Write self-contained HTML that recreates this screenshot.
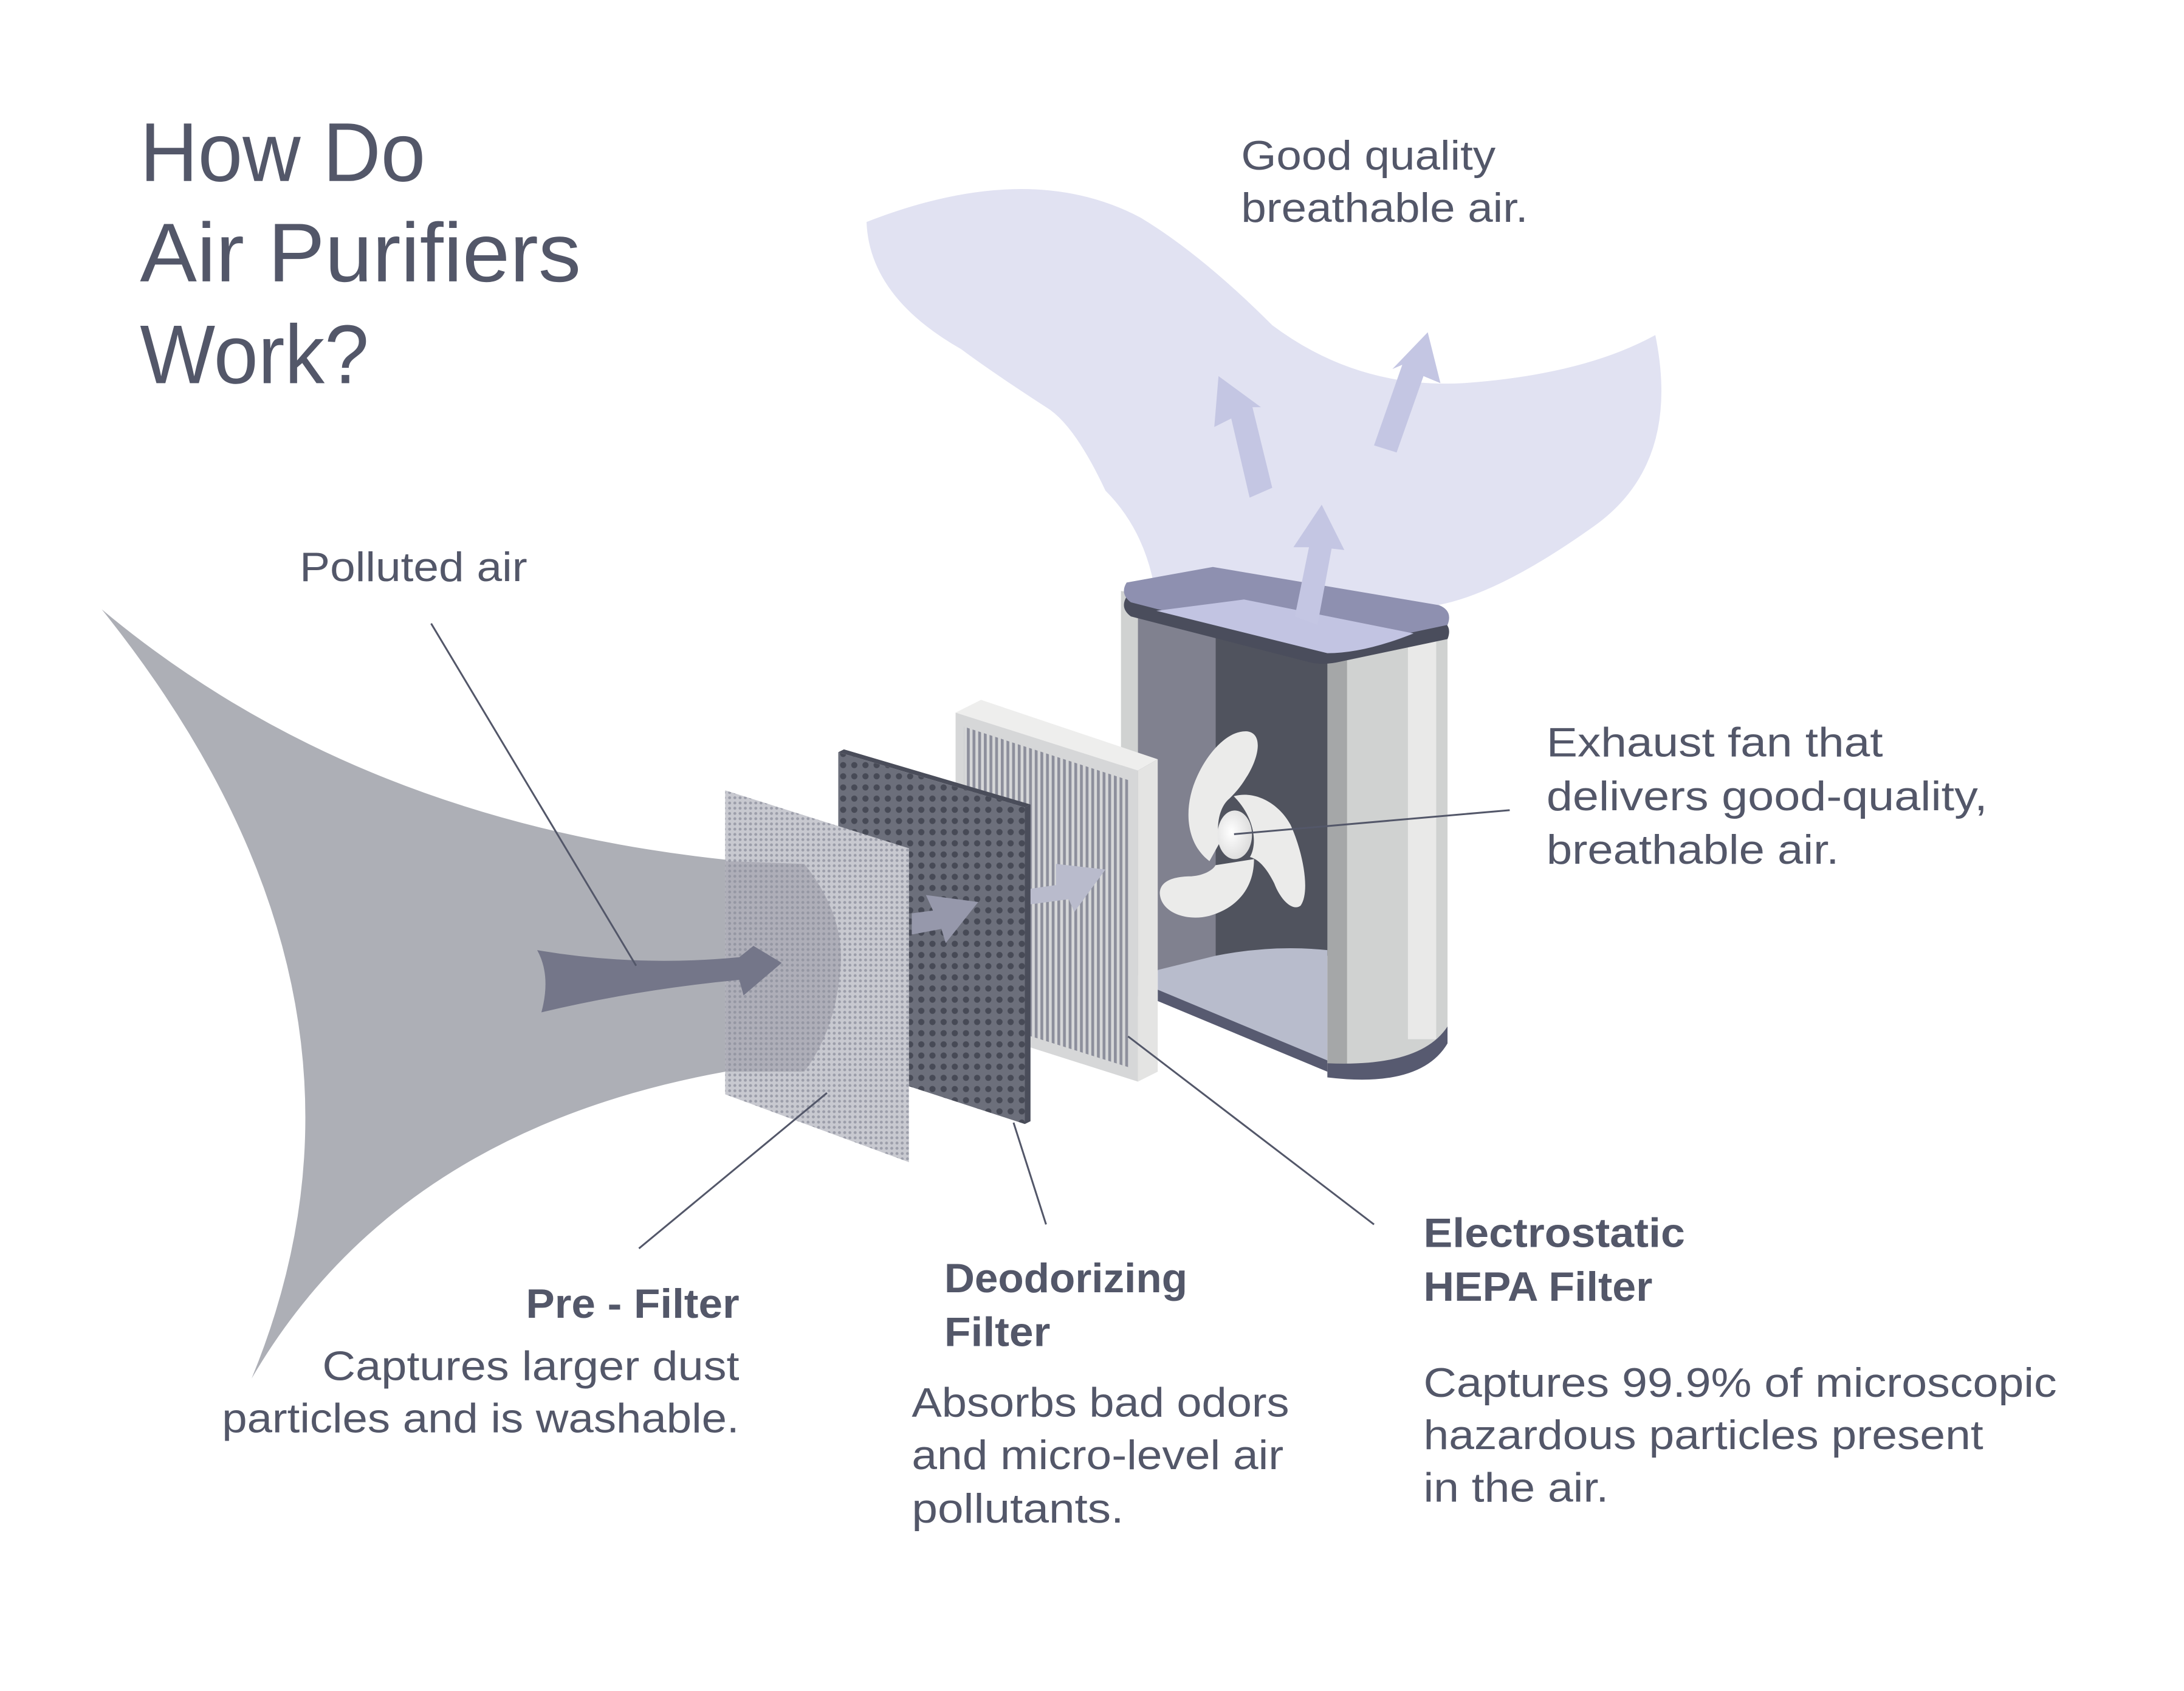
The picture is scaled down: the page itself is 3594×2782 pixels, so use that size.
<!DOCTYPE html>
<html><head><meta charset="utf-8"><style>
html,body{margin:0;padding:0;background:#fff;}
svg{display:block;}
text{font-family:"Liberation Sans",sans-serif;fill:#535769;}
</style></head><body>
<svg width="3594" height="2782" viewBox="0 0 1545 1196" preserveAspectRatio="none" xmlns="http://www.w3.org/2000/svg">
<defs>
<pattern id="pd" patternUnits="userSpaceOnUse" width="3.7" height="3.7"><rect width="3.7" height="3.7" fill="#c8c9d0"/><circle cx="1.85" cy="1.85" r="1.05" fill="#9c9eaa"/></pattern>
<pattern id="dd" patternUnits="userSpaceOnUse" width="7.9" height="7.9"><rect width="7.9" height="7.9" fill="#6c6f7b"/><circle cx="3.95" cy="3.95" r="2.2" fill="#474a56"/></pattern>
<pattern id="st" patternUnits="userSpaceOnUse" width="4" height="10"><rect width="4" height="10" fill="#d6d7d8"/><rect width="2" height="10" fill="#8d8f9c"/></pattern>
<radialGradient id="hub" cx="0.4" cy="0.45" r="0.6"><stop offset="0" stop-color="#ffffff"/><stop offset="1" stop-color="#dcdcdc"/></radialGradient>
</defs>

<text x="99" y="128" font-size="59" textLength="202" lengthAdjust="spacingAndGlyphs">How Do</text>
<text x="99" y="199" font-size="59" textLength="312" lengthAdjust="spacingAndGlyphs">Air Purifiers</text>
<text x="99" y="271" font-size="59" textLength="162" lengthAdjust="spacingAndGlyphs">Work?</text>

<path d="M613,157 Q728,112 807,154 Q850,180 900,230 Q960,275 1035,271 Q1120,265 1171,237 Q1190,330 1125,374 Q1060,420 1017,428 L819,434 Q815,380 782,347 Q760,300 740,288 Q700,262 680,247 Q615,210 613,157 Z" fill="#e1e2f2"/>
<polygon points="862,266 892,288 886,288 900,345 884,352 871,296 859,302" fill="#c4c6e3"/>
<polygon points="1010,235 1019,271 1007,266 988,320 972,315 992,258 985,261" fill="#c4c6e3"/>

<text x="878" y="120" font-size="29" textLength="180" lengthAdjust="spacingAndGlyphs">Good quality</text>
<text x="878" y="157" font-size="29" textLength="203" lengthAdjust="spacingAndGlyphs">breathable air.</text>

<path d="M72,431 Q250,580 513,608 L513,758 Q280,800 178,975 Q290,703 72,431 Z" fill="#adafb6"/>

<polygon points="793,418 806,420 806,705 793,700" fill="#d0d2d1"/>
<polygon points="805,422 861,430 861,676 805,690" fill="#80818f"/>
<polygon points="860,430 940,450 940,676 860,676" fill="#50535e"/>
<path d="M819,686 L860,676 Q900,668 939,672 L939,752 L819,702 Z" fill="#b8bccc"/>
<path d="M819,700 L939,750 L939,758 L819,708 Z" fill="#575a70"/>
<rect x="939" y="450" width="14" height="306" fill="#a5a7a8"/>
<path d="M953,448 L1024,436 L1024,728 Q1010,752 953,757 Z" fill="#d0d2d1"/>
<rect x="996" y="440" width="20" height="295" fill="#e9e9e8"/>
<path d="M939,752 Q1005,755 1024,726 L1024,738 Q1005,770 939,762 Z" fill="#575a70"/>

<path d="M797,422 L858,412 L1018,438 Q1028,442 1024,452 L948,468 Q935,471 925,468 L800,436 Q792,430 797,422 Z" fill="#4a4d5c"/>
<path d="M797,412 L858,401 L1018,428 Q1028,432 1024,442 L948,458 Q935,461 925,458 L800,426 Q792,420 797,412 Z" fill="#8e90b0"/>
<path d="M818,432 L880,424 L1000,448 Q965,462 939,462 Z" fill="#c2c4e2"/>
<polygon points="935,357 951,389 942,388 932,442 916,436 926,387 915,387" fill="#c4c6e3"/>

<g transform="translate(795.4,515.9) scale(0.1433)">
<path d="M420,650 C300,560 290,380 360,230 C420,100 520,0 610,10 C690,25 660,150 600,240 C570,290 540,320 520,340 C470,380 450,470 470,560 Z" fill="#ebebea"/>
<path d="M540,330 C640,300 760,360 820,470 C880,600 920,800 870,870 C830,900 770,840 740,760 C700,680 660,640 620,630 C660,560 640,430 540,330 Z" fill="#ebebea"/>
<path d="M640,640 C640,780 560,880 420,920 C300,950 180,900 175,810 C175,740 260,725 330,725 C400,720 440,690 450,670 Z" fill="#ebebea"/>
<ellipse cx="545" cy="520" rx="85" ry="120" fill="url(#hub)"/>
</g>

<polygon points="676,504 694,495 819,537 805,545" fill="#eeeeed"/>
<polygon points="805,545 819,537 819,758 805,765" fill="#e4e4e3"/>
<polygon points="676,504 805,545 805,765 676,724" fill="#d6d7d8"/>
<polygon points="682,514 799,552 799,755 682,718" fill="url(#st)"/>
<polygon points="726,629 747,626 747,611 782,615 760,645 756,636 726,640" fill="#b9bbcc"/>

<polygon points="593,532 597,530 729,569 725,571" fill="#4a4d5a"/>
<polygon points="725,571 729,569 729,793 725,795" fill="#4a4d5a"/>
<polygon points="593,532 725,571 725,795 593,752" fill="url(#dd)"/>
<polygon points="645,646 660,644 655,633 692,638 669,667 666,657 645,661" fill="#9698ab"/>

<polygon points="513,559 643,600 643,822 513,774" fill="url(#pd)"/>
<path d="M513,609 L569,611 Q600,650 594,690 Q590,730 569,758 L513,758 Z" fill="#8d8f9b" opacity="0.45"/>

<path d="M380,672 Q450,684 523,677 L533,669 L553,681 L526,704 L523,693 Q450,700 383,716 Q390,690 380,672 Z" fill="#747689"/>

<g stroke="#535769" stroke-width="1.3" fill="none">
<line x1="305" y1="441" x2="450" y2="683"/>
<line x1="585" y1="773" x2="452" y2="883"/>
<line x1="717" y1="794" x2="740" y2="866"/>
<line x1="798" y1="733" x2="972" y2="866"/>
<line x1="873" y1="590" x2="1068" y2="573"/>
</g>

<text x="212" y="411" font-size="29" textLength="161" lengthAdjust="spacingAndGlyphs">Polluted air</text>

<text x="1094" y="535" font-size="29" textLength="238" lengthAdjust="spacingAndGlyphs">Exhaust fan that</text>
<text x="1094" y="573" font-size="29" textLength="312" lengthAdjust="spacingAndGlyphs">delivers good-quality,</text>
<text x="1094" y="611" font-size="29" textLength="207" lengthAdjust="spacingAndGlyphs">breathable air.</text>

<text x="372" y="932" font-size="29" font-weight="bold" textLength="151" lengthAdjust="spacingAndGlyphs">Pre - Filter</text>
<text x="228" y="976" font-size="29" textLength="295" lengthAdjust="spacingAndGlyphs">Captures larger dust</text>
<text x="157" y="1013" font-size="29" textLength="366" lengthAdjust="spacingAndGlyphs">particles and is washable.</text>

<text x="668" y="914" font-size="29" font-weight="bold" textLength="172" lengthAdjust="spacingAndGlyphs">Deodorizing</text>
<text x="668" y="952" font-size="29" font-weight="bold" textLength="75" lengthAdjust="spacingAndGlyphs">Filter</text>
<text x="645" y="1002" font-size="29" textLength="267" lengthAdjust="spacingAndGlyphs">Absorbs bad odors</text>
<text x="645" y="1039" font-size="29" textLength="263" lengthAdjust="spacingAndGlyphs">and micro-level air</text>
<text x="645" y="1077" font-size="29" textLength="150" lengthAdjust="spacingAndGlyphs">pollutants.</text>

<text x="1007" y="882" font-size="29" font-weight="bold" textLength="185" lengthAdjust="spacingAndGlyphs">Electrostatic</text>
<text x="1007" y="920" font-size="29" font-weight="bold" textLength="162" lengthAdjust="spacingAndGlyphs">HEPA Filter</text>
<text x="1007" y="988" font-size="29" textLength="448" lengthAdjust="spacingAndGlyphs">Captures 99.9% of microscopic</text>
<text x="1007" y="1025" font-size="29" textLength="396" lengthAdjust="spacingAndGlyphs">hazardous particles present</text>
<text x="1007" y="1062" font-size="29" textLength="131" lengthAdjust="spacingAndGlyphs">in the air.</text>
</svg>
</body></html>
